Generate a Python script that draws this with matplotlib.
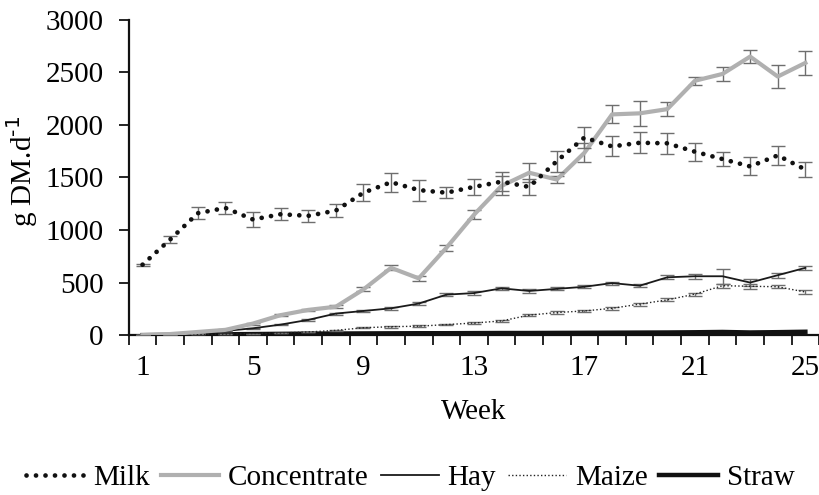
import numpy as np
import matplotlib.pyplot as plt
from matplotlib.lines import Line2D

plt.rcParams["font.family"] = ["Liberation Serif", "DejaVu Serif"]

weeks = np.arange(1, 26)

milk = [670, 910, 1160, 1210, 1100, 1150, 1135, 1185, 1355, 1455, 1380, 1355, 1410,
        1460, 1410, 1655, 1880, 1795, 1830, 1825, 1745, 1675, 1605, 1710, 1575]
milk_err = [10, 30, 60, 60, 70, 55, 55, 65, 80, 90, 100, 55, 80,
            90, 80, 100, 100, 95, 100, 100, 85, 70, 85, 90, 75]

concentrate = [0, 10, 30, 50, 110, 190, 240, 270, 435, 640, 540, 830, 1145,
               1420, 1545, 1480, 1735, 2100, 2110, 2150, 2420, 2485, 2650, 2460, 2590]
conc_err = [0, 0, 0, 5, 10, 10, 10, 15, 20, 25, 25, 30, 45,
            90, 90, 30, 90, 85, 120, 65, 40, 65, 65, 110, 115]

hay = [0, 10, 25, 40, 65, 100, 145, 205, 230, 255, 300, 385, 400,
       445, 420, 440, 460, 495, 470, 550, 560, 560, 500, 570, 640]
hay_err = [0, 0, 2, 3, 5, 5, 8, 10, 10, 12, 15, 15, 15,
           15, 15, 15, 15, 15, 15, 20, 25, 70, 30, 25, 20]

maize = [0, 3, 6, 10, 15, 20, 30, 45, 70, 80, 85, 100, 115,
         135, 190, 215, 230, 255, 295, 335, 390, 470, 465, 460, 410]
maize_err = [0, 0, 0, 0, 0, 2, 3, 5, 5, 8, 8, 8, 10,
             10, 10, 12, 12, 12, 15, 15, 15, 20, 25, 15, 15]

straw = [0, 2, 5, 8, 10, 12, 14, 15, 16, 17, 18, 18, 19,
         20, 20, 21, 22, 23, 24, 25, 27, 30, 25, 28, 32]

FS = 21

fig = plt.figure(figsize=(8.2, 4.95), dpi=100)
ax = fig.add_axes([0.157, 0.323, 0.842, 0.637])

err_kw = dict(ecolor="#6e6e6e", elinewidth=1.0, capsize=5, capthick=1.0)

ax.errorbar(weeks, straw, color="#111111", lw=3.2, zorder=3)
ax.errorbar(weeks, maize, yerr=maize_err, color="#222222", lw=1.0,
            ls=(0, (1, 1.6)), zorder=4, **err_kw)
ax.errorbar(weeks, hay, yerr=hay_err, color="#1a1a1a", lw=1.3, zorder=4, **err_kw)
ax.errorbar(weeks, concentrate, yerr=conc_err, color="#b0b0b0", lw=3.0, zorder=5, **err_kw)
milk_line = ax.errorbar(weeks, milk, yerr=milk_err, color="#111111", lw=3.4,
                        ls=(0, (0.01, 2.0)), zorder=6, **err_kw)
milk_line.lines[0].set_dash_capstyle("round")

ax.set_xlim(0.5, 25.5)
ax.set_ylim(0, 3000)
ax.set_yticks(np.arange(0, 3001, 500))
# week boundaries get the tick marks, week centres get the labels
ax.set_xticks(np.arange(0.5, 25.6, 1))
ax.set_xticklabels([])
ax.set_xticks(weeks[::4], minor=True)
ax.set_xticklabels([str(w) for w in weeks[::4]], minor=True)
ax.tick_params(axis="x", which="minor", length=0, pad=14, labelsize=FS)
ax.tick_params(axis="x", which="major", length=7, width=1.2, direction="out")
ax.tick_params(axis="y", length=7, width=1.2, direction="out", labelsize=FS, pad=11)

for side in ("top", "right"):
    ax.spines[side].set_visible(False)
for side in ("left", "bottom"):
    ax.spines[side].set_linewidth(1.6)
    ax.spines[side].set_color("#111111")

ax.set_xlabel("Week", fontsize=FS, labelpad=13)
ax.set_ylabel("g DM.d$^{\\text{-1}}$", fontsize=FS, labelpad=0)
ax.yaxis.set_label_coords(-0.128, 0.52)

handles = [
    Line2D([], [], color="#111111", lw=3.4, ls=(0, (0.01, 2.0)), dash_capstyle="round"),
    Line2D([], [], color="#b0b0b0", lw=3.0),
    Line2D([], [], color="#1a1a1a", lw=1.3),
    Line2D([], [], color="#222222", lw=1.0, ls=(0, (1, 1.6))),
    Line2D([], [], color="#111111", lw=3.2),
]
fig.legend(handles, ["Milk", "Concentrate", "Hay", "Maize", "Straw"],
           loc="center", bbox_to_anchor=(0.5, 0.034), ncol=5, frameon=False,
           fontsize=FS, handlelength=2.0, handletextpad=0.3, columnspacing=0.4,
           borderpad=0, borderaxespad=0)

fig.savefig("out.png", dpi=100)
